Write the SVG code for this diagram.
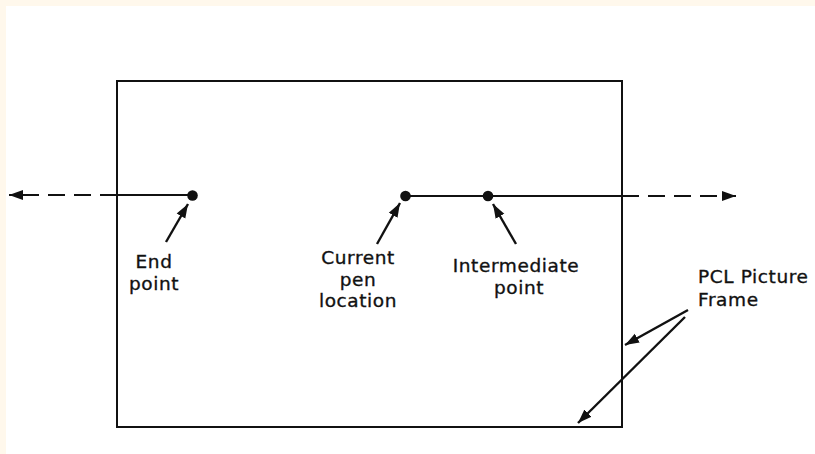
<svg xmlns="http://www.w3.org/2000/svg" width="815" height="454" viewBox="0 0 815 454">
<style>
.ln{stroke:#111;stroke-width:2;fill:none}
.dash{stroke-dasharray:17 9}
.ptr{stroke:#111;stroke-width:2.4;fill:none}
.dot{fill:#111}
text{font-family:"DejaVu Sans",Verdana,sans-serif;font-size:18.5px;letter-spacing:0.6px;fill:#111;stroke:#111;stroke-width:0.35}
.c{text-anchor:middle}
</style>
<defs>
<marker id="ah" markerUnits="userSpaceOnUse" markerWidth="16" markerHeight="12" refX="14" refY="5.5" orient="auto">
<path d="M0,0.5 L14,5.5 L0,10.5 z" fill="#111"/>
</marker>
</defs>
<rect x="0" y="0" width="815" height="454" fill="#fff8ec"/>
<rect x="6" y="6" width="809" height="448" fill="#ffffff"/>
<g id="frame">
<rect class="ln" x="117" y="81" width="505" height="346"/>
</g>
<g id="connectors">
<line class="ln dash" x1="117" y1="195" x2="9" y2="195" marker-end="url(#ah)"/>
<line class="ln" x1="117" y1="195" x2="192" y2="195"/>
<line class="ln" x1="405" y1="196" x2="622" y2="196"/>
<line class="ln dash" x1="622" y1="196" x2="736" y2="196" marker-end="url(#ah)"/>
<line class="ptr" x1="166" y1="242" x2="188" y2="204" marker-end="url(#ah)"/>
<line class="ptr" x1="377" y1="244" x2="400" y2="203" marker-end="url(#ah)"/>
<line class="ptr" x1="516" y1="244" x2="493" y2="204" marker-end="url(#ah)"/>
<line class="ptr" x1="688" y1="310" x2="625" y2="345" marker-end="url(#ah)"/>
<line class="ptr" x1="685" y1="317" x2="578" y2="423" marker-end="url(#ah)"/>
</g>
<g id="end-point">
<circle class="dot" cx="192.5" cy="195.5" r="5.3"/>
<text class="c" x="154" y="268">End</text>
<text class="c" x="154" y="290">point</text>
</g>
<g id="current-pen">
<circle class="dot" cx="405.5" cy="196" r="5.3"/>
<text class="c" x="358" y="264">Current</text>
<text class="c" x="358" y="285.5">pen</text>
<text class="c" x="358" y="307">location</text>
</g>
<g id="intermediate">
<circle class="dot" cx="488" cy="196" r="5.3"/>
<text class="c" x="516" y="272">Intermediate</text>
<text class="c" x="519" y="293.5">point</text>
</g>
<g id="pcl-label">
<text x="698" y="283">PCL Picture</text>
<text x="698" y="306">Frame</text>
</g>
</svg>
